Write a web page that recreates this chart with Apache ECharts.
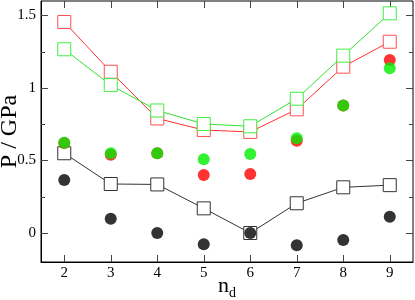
<!DOCTYPE html>
<html><head><meta charset="utf-8">
<script src="https://cdn.jsdelivr.net/npm/echarts@6/dist/echarts.min.js"></script>
<style>html,body{margin:0;padding:0;background:#fff}#c{width:415px;height:300px}</style>
</head><body><div id="c"></div>
<script>
const nd = [2, 3, 4, 5, 6, 7, 8, 9];
const blackSquares = [0.55, 0.338, 0.335, 0.17, 0.0, 0.205, 0.315, 0.33];
const blackCircles = [0.366, 0.099, 0.0, -0.078, 0.0, -0.085, -0.048, 0.112];
const redSquares = [1.455, 1.112, 0.79, 0.71, 0.697, 0.853, 1.147, 1.319];
const greenSquares = [1.267, 1.02, 0.845, 0.752, 0.736, 0.926, 1.223, 1.515];
const redCircles = [0.62, 0.54, 0.55, 0.40, 0.407, 0.637, 0.88, 1.193];
const greenCircles = [0.623, 0.55, 0.55, 0.508, 0.545, 0.653, 0.88, 1.136];
const xTicks = [2, 3, 4, 5, 6, 7, 8, 9];
const yTicks = [0, 0.5, 1, 1.5];
const yMinorTicks = [0.25, 0.75, 1.25];

const pair = arr => nd.map((x, i) => [x, arr[i]]);
const font = 'Liberation Serif';
const tickColor = '#444';

const chart = echarts.init(document.getElementById('c'), null, {renderer: 'canvas'});
function sq(name, data, color, lineColor, z) {
  return {name, type: 'line', data: pair(data), symbol: 'rect', symbolSize: 13,
    lineStyle: {color: lineColor, width: 1}, itemStyle: {color: '#fff', borderColor: color, borderWidth: 1},
    z, animation: false, xAxisIndex: 0, yAxisIndex: 0};
}
function ci(name, data, color, z) {
  return {name, type: 'scatter', data: pair(data), symbol: 'circle', symbolSize: 12,
    itemStyle: {color}, z, animation: false, xAxisIndex: 0, yAxisIndex: 0};
}
const xBase = {type: 'value', min: 1.5, max: 9.5, splitLine: {show: false}};
const yBase = {type: 'value', min: -0.2, max: 1.6, splitLine: {show: false}};
chart.setOption({
  animation: false,
  grid: {left: 41, right: 2, top: 1, bottom: 38, containLabel: false, outerBoundsMode: 'none',
    show: true, borderColor: '#000', borderWidth: 1},
  xAxis: [Object.assign({}, xBase, {
    position: 'bottom',
    axisLine: {show: true, onZero: false, lineStyle: {color: '#000'}},
    axisTick: {show: true, inside: true, length: 7, customValues: xTicks, lineStyle: {color: tickColor}},
    axisLabel: {show: true, fontFamily: font, fontSize: 15, color: '#000', margin: 4, customValues: xTicks},
    name: '{n|n}{d|d}', nameLocation: 'middle', nameGap: 10, nameMoveOverlap: false,
    nameTextStyle: {rich: {n: {fontFamily: font, fontSize: 22, color: '#000'},
      d: {fontFamily: font, fontSize: 14, color: '#000', padding: [14, 0, 0, 0]}}}
  }), Object.assign({}, xBase, {
    position: 'top',
    axisLine: {show: false, onZero: false}, axisLabel: {show: false},
    axisTick: {show: true, inside: true, length: 7, customValues: xTicks, lineStyle: {color: tickColor}}
  })],
  yAxis: [Object.assign({}, yBase, {
    position: 'left',
    axisLine: {show: true, onZero: false, lineStyle: {color: '#000'}},
    axisTick: {show: true, inside: true, length: 7, customValues: yTicks, lineStyle: {color: tickColor}},
    axisLabel: {show: true, fontFamily: font, fontSize: 15, color: '#000', margin: 5, customValues: yTicks},
    name: 'P / GPa', nameLocation: 'middle', nameGap: 19, nameRotate: 90, nameMoveOverlap: false,
    nameTextStyle: {fontFamily: font, fontSize: 24, color: '#000'}
  }), Object.assign({}, yBase, {
    position: 'left', offset: 0,
    axisLine: {show: false, onZero: false}, axisLabel: {show: false},
    axisTick: {show: true, inside: true, length: 4, customValues: yMinorTicks, lineStyle: {color: tickColor}}
  }), Object.assign({}, yBase, {
    position: 'right',
    axisLine: {show: false, onZero: false}, axisLabel: {show: false},
    axisTick: {show: true, inside: true, length: 7, customValues: yTicks, lineStyle: {color: tickColor}}
  }), Object.assign({}, yBase, {
    position: 'right', offset: 0,
    axisLine: {show: false, onZero: false}, axisLabel: {show: false},
    axisTick: {show: true, inside: true, length: 4, customValues: yMinorTicks, lineStyle: {color: tickColor}}
  })],
  series: [
    sq('black squares', blackSquares, '#333', '#333', 2),
    ci('black circles', blackCircles, '#000', 3),
    sq('red squares', redSquares, '#ff5050', '#ff3030', 4),
    sq('green squares', greenSquares, '#40ee40', '#30e030', 5),
    ci('red circles', redCircles, '#ff0000', 6),
    ci('green circles', greenCircles, '#00ee00', 7)
  ]
});
</script></body></html>
